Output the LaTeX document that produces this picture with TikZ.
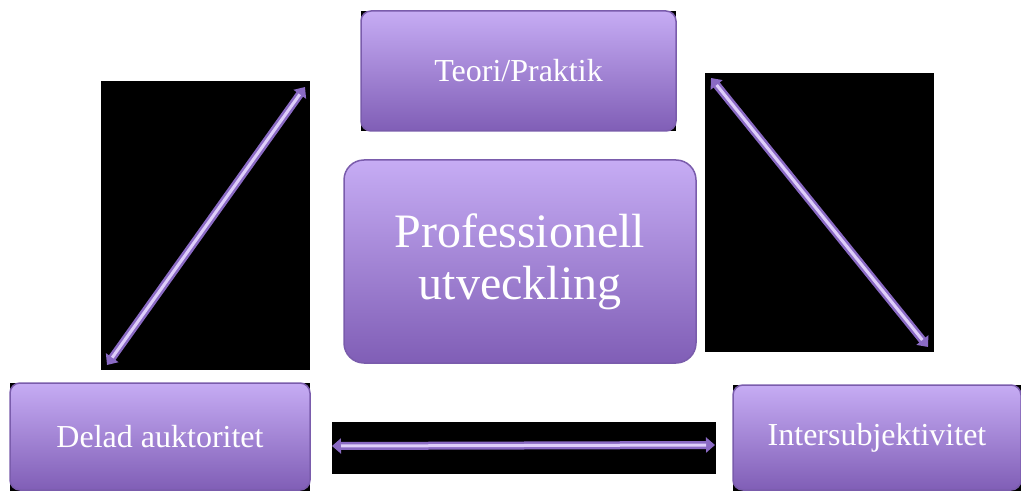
\documentclass[tikz,border=0pt]{standalone}
\usepackage{fontspec}
\setmainfont{Liberation Serif}
\usetikzlibrary{arrows.meta}
\definecolor{boxtop}{RGB}{198,172,244}
\definecolor{boxbot}{RGB}{128,94,182}
\definecolor{boxedge}{RGB}{122,92,172}
\definecolor{arrowout}{RGB}{138,106,196}
\definecolor{arrowin}{RGB}{222,206,250}
\tikzset{
  pbox/.style={draw=boxedge, line width=1.5pt, rounded corners=10pt,
    top color=boxtop, bottom color=boxbot, text=white, align=center, inner sep=0pt},
  blackbg/.style={fill=black, draw=none},
  arrout/.style={draw=arrowout, line width=8pt,
    {Triangle[length=9pt,width=15pt]}-{Triangle[length=9pt,width=15pt]}},
  arrin/.style={draw=arrowin, line width=3pt, shorten >=9pt, shorten <=9pt},
  smalltxt/.style={font=\fontsize{32}{38}\selectfont},
  bigtxt/.style={font=\fontsize{48}{52}\selectfont},
}
\begin{document}
\begin{tikzpicture}[x=1pt,y=1pt]
\useasboundingbox (0,0) rectangle (1021,491);
% black backgrounds
\fill[blackbg] (101,121) rectangle (310,410);
\fill[blackbg] (705,139) rectangle (934,418);
\fill[blackbg] (332,17) rectangle (716,69);
\fill[blackbg] (361,360) rectangle (676,480);
\fill[blackbg] (10,0) rectangle (310,108);
\fill[blackbg] (733,0) rectangle (1021,106);
% boxes
\node[pbox, smalltxt, minimum width=315pt, minimum height=120pt] (teori) at (518.5,420) {Teori/Praktik};
\node[pbox, bigtxt, rounded corners=20pt, minimum width=352pt, minimum height=203pt] (center) at (520,229.5) {Professionell\\utveckling};
\node[pbox, smalltxt, minimum width=300pt, minimum height=107pt] (delad) at (160,54.5) {Delad auktoritet};
\node[pbox, smalltxt, minimum width=288pt, minimum height=105pt] (inter) at (877,53.5) {Intersubjektivitet};
% arrow end points
\coordinate (l1) at (107,126);
\coordinate (l2) at (305,404);
\coordinate (r1) at (711,413);
\coordinate (r2) at (928,144);
\coordinate (b1) at (332,45);
\coordinate (b2) at (715,46);
\draw[arrout] (l1) -- (l2);
\draw[arrin] (l1) -- (l2);
\draw[arrout] (r1) -- (r2);
\draw[arrin] (r1) -- (r2);
\draw[arrout] (b1) -- (b2);
\draw[arrin] (b1) -- (b2);
\end{tikzpicture}
\end{document}
